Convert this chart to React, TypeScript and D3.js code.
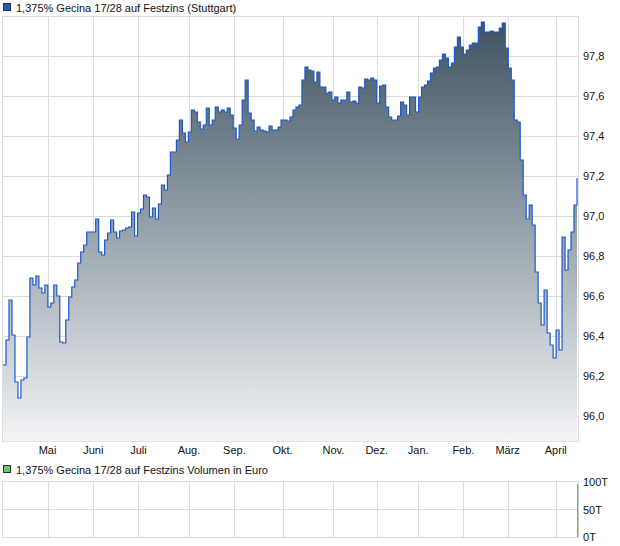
import React from "react";
import * as d3 from "d3";

// Price series (trading-day index order), values in % of nominal
const prices: number[] = [
  96.255, 96.38, 96.58, 96.405, 96.17, 96.09, 96.18, 96.19, 96.395, 96.69,
  96.655, 96.70, 96.64, 96.615, 96.655, 96.545, 96.565, 96.655, 96.60, 96.37,
  96.365, 96.48, 96.595, 96.645, 96.68, 96.765, 96.82, 96.855, 96.92, 96.92,
  96.92, 96.985, 96.82, 96.805, 96.88, 96.915, 96.98, 96.92, 96.89, 96.925,
  96.93, 96.94, 96.945, 97.02, 96.90, 97.015, 97.035, 97.105, 97.095, 96.995,
  97.04, 96.985, 97.06, 97.155, 97.13, 97.205, 97.32, 97.32, 97.38, 97.48,
  97.415, 97.37, 97.42, 97.53, 97.52, 97.47, 97.435, 97.455, 97.54, 97.455,
  97.48, 97.545, 97.52, 97.53, 97.52, 97.54, 97.505, 97.44, 97.385, 97.455,
  97.58, 97.68, 97.515, 97.48, 97.425, 97.445, 97.43, 97.425, 97.42, 97.45,
  97.43, 97.43, 97.445, 97.48, 97.48, 97.475, 97.495, 97.53, 97.545, 97.555,
  97.68, 97.745, 97.73, 97.725, 97.67, 97.72, 97.645, 97.645, 97.615, 97.62,
  97.58, 97.595, 97.565, 97.58, 97.58, 97.62, 97.57, 97.575, 97.565, 97.645,
  97.64, 97.685, 97.68, 97.69, 97.68, 97.565, 97.65, 97.655, 97.545, 97.495,
  97.48, 97.48, 97.50, 97.57, 97.555, 97.505, 97.595, 97.595, 97.52, 97.595,
  97.645, 97.655, 97.675, 97.715, 97.74, 97.745, 97.78, 97.81, 97.79, 97.745,
  97.765, 97.845, 97.895, 97.845, 97.81, 97.83, 97.855, 97.865, 97.865, 97.945,
  97.97, 97.92, 97.92, 97.925, 97.92, 97.92, 97.94, 97.965, 97.84, 97.74,
  97.68, 97.48, 97.47, 97.28, 97.105, 96.985, 97.055, 96.955, 96.72, 96.565,
  96.455, 96.63, 96.415, 96.355, 96.29, 96.43, 96.33, 96.895, 96.73, 96.83,
  96.92, 97.055, 97.19,
];

// Month labels and their position on the trading-day index axis
const months: string[] = ["Mai", "Juni", "Juli", "Aug.", "Sep.", "Okt.", "Nov.", "Dez.", "Jan.", "Feb.", "März", "April"];
const monthStarts: number[] = [14.9, 30.2, 45.3, 62.2, 77.4, 93.5, 110.5, 125.0, 138.9, 154.0, 168.8, 184.9];

const priceTicks: number[] = [96.0, 96.2, 96.4, 96.6, 96.8, 97.0, 97.2, 97.4, 97.6, 97.8];

// Volume (in thousand euro): only one trade visible, at the last date
const volumeIndex: number[] = [192];
const volumeValues: number[] = [97];
const volumeTicks: number[] = [0, 50, 100];

const title = "1,375% Gecina 17/28 auf Festzins (Stuttgart)";
const volTitle = "1,375% Gecina 17/28 auf Festzins Volumen in Euro";

export default function App() {
  const W = 620, H = 546;
  const L = 2.5, R = 578.5;
  const top1 = 16.5, bot1 = 441.5;
  const top2 = 481.5, bot2 = 537.5;
  const font = "'Liberation Sans', Arial, sans-serif";

  const x = d3.scaleLinear().domain([0, prices.length - 1]).range([3, 577]);
  const y = d3.scaleLinear().domain([96.0, 97.8]).range([416, 56]);
  const yv = d3.scaleLinear().domain([0, 100]).range([bot2, top2 + 1]);

  const line = d3.line<number>().x((_, i) => x(i)).y((d) => y(d)).curve(d3.curveStepAfter);
  const area = d3.area<number>().x((_, i) => x(i)).y0(bot1).y1((d) => y(d)).curve(d3.curveStepAfter);
  const fmt = (v: number) => d3.format(".1f")(v).replace(".", ",");
  const grid = "#dcdcdc";

  return (
    <svg width={W} height={H} style={{ position: "absolute", left: 0, top: 0, background: "#fff" }}>
      <defs>
        <linearGradient id="fillGrad" gradientUnits="userSpaceOnUse" x1="0" y1={20} x2="0" y2={bot1}>
          <stop offset="0" stopColor="#3e5261" />
          <stop offset="0.5" stopColor="#97a3ab" />
          <stop offset="1" stopColor="#f3f4f6" />
        </linearGradient>
        <clipPath id="clip1">
          <rect x={L} y={top1} width={R - L} height={bot1 - top1} />
        </clipPath>
      </defs>

      {/* Legend 1 */}
      <rect x={3.5} y={3.5} width={7} height={7} fill="#1d5bc8" stroke="#333" strokeWidth={1} />
      <text x={16} y={12} fontFamily={font} fontSize={11} fill="#111">{title}</text>

      {/* Main panel grid */}
      <g stroke={grid} strokeWidth={1} fill="none">
        {priceTicks.map((t) => (
          <line key={t} x1={L} x2={R} y1={Math.round(y(t)) + 0.5} y2={Math.round(y(t)) + 0.5} />
        ))}
        {monthStarts.map((m, i) => (
          <line key={i} x1={Math.round(x(m)) + 0.5} x2={Math.round(x(m)) + 0.5} y1={top1} y2={bot1} />
        ))}
        <rect x={L} y={top1} width={R - L} height={bot1 - top1} />
      </g>

      <g clipPath="url(#clip1)">
        <path d={area(prices) || ""} fill="url(#fillGrad)" />
        <path d={line(prices) || ""} fill="none" stroke="#1a58cc" strokeWidth={1.2} />
      </g>

      {/* Right axis */}
      {priceTicks.map((t) => (
        <text key={t} x={583} y={y(t)} dy="0.35em" fontFamily={font} fontSize={11} fill="#111">{fmt(t)}</text>
      ))}

      {/* Month labels */}
      {months.map((m, i) => (
        <text key={m} x={x(monthStarts[i])} y={454} textAnchor="middle" fontFamily={font} fontSize={11} fill="#111">{m}</text>
      ))}

      {/* Legend 2 */}
      <rect x={3.5} y={465.5} width={7} height={7} fill="#66cc66" stroke="#333" strokeWidth={1} />
      <text x={16} y={474} fontFamily={font} fontSize={11} fill="#111">{volTitle}</text>

      {/* Volume panel */}
      <g stroke={grid} strokeWidth={1} fill="none">
        <line x1={L} x2={R} y1={509.5} y2={509.5} />
        {monthStarts.map((m, i) => (
          <line key={i} x1={Math.round(x(m)) + 0.5} x2={Math.round(x(m)) + 0.5} y1={top2} y2={bot2} />
        ))}
        <rect x={L} y={top2} width={R - L} height={bot2 - top2} />
      </g>
      {volumeIndex.map((vi, k) => (
        <rect key={k} x={x(vi)} y={yv(volumeValues[k])} width={1.2} height={bot2 - yv(volumeValues[k])} fill="#4cc94c" />
      ))}
      {volumeTicks.map((t) => (
        <text key={t} x={583} y={yv(t)} dy="0.35em" fontFamily={font} fontSize={11} fill="#111">{t}T</text>
      ))}
    </svg>
  );
}
